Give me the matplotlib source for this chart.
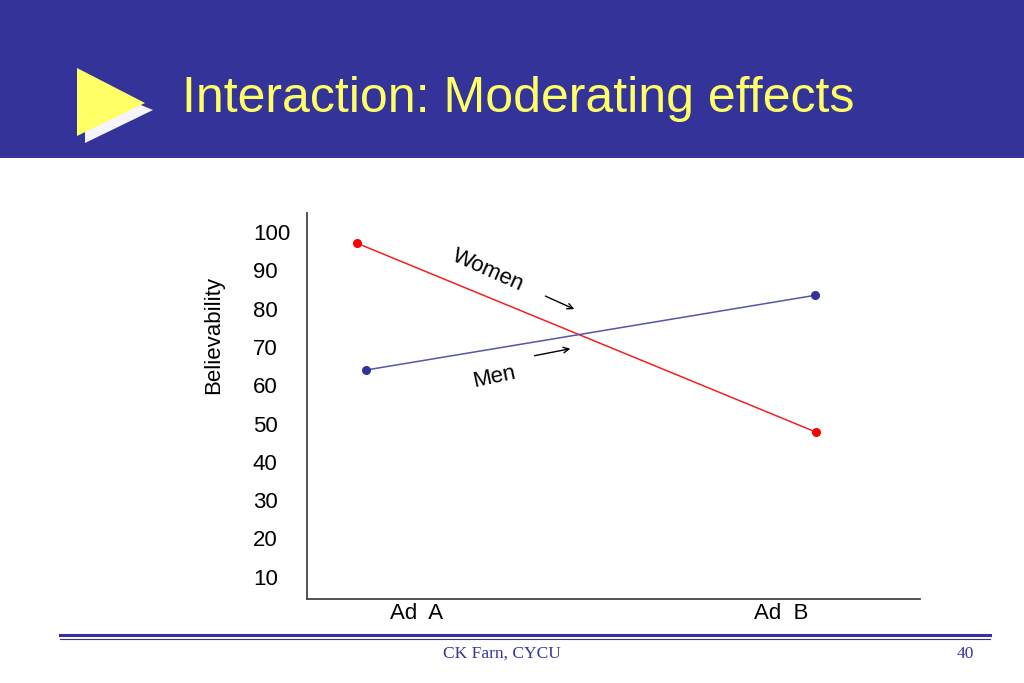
import numpy as np
import matplotlib.pyplot as plt
from matplotlib.patches import Polygon, Rectangle

plt.rcParams['font.family'] = ['Liberation Sans', 'DejaVu Sans']

# data
groups = ["Women", "Men"]
ad_labels = ["Ad  A", "Ad  B"]
women_x = [0.0, 1.0]
women_y = [97.1, 47.8]
men_x = [0.02, 0.998]
men_y = [64.0, 83.5]
y_ticks = [10, 20, 30, 40, 50, 60, 70, 80, 90, 100]
ad_tick_pos = [0.13, 0.925]

W, H = 1024, 683
fig = plt.figure(figsize=(W / 100, H / 100), dpi=100)
fig.patch.set_facecolor("white")

# slide background drawn in pixel coords
bg = fig.add_axes([0, 0, 1, 1])
bg.set_xlim(0, W)
bg.set_ylim(H, 0)
bg.axis("off")
bg.add_patch(Rectangle((0, 0), W, 158, color="#333399", lw=0))
bg.add_patch(Polygon([[85, 82], [85, 143], [153, 110]], closed=True, color="#F4F4FA", lw=0))
bg.add_patch(Polygon([[77, 68], [77, 136], [145, 103]], closed=True, color="#FFFF66", lw=0))
bg.text(182, 99, "Interaction: Moderating effects", color="#FFFF66", fontsize=36,
        va="center", ha="left")
bg.plot([60, 990], [635, 635], color="#333399", lw=2.2)
bg.plot([60, 990], [639, 639], color="#333399", lw=0.8)
bg.text(502, 654, "CK Farn, CYCU", family="Liberation Serif", fontsize=12.5,
        color="#333399", ha="center", va="center")
bg.text(965, 654, "40", family="Liberation Serif", fontsize=12.5,
        color="#333399", ha="center", va="center")

# chart
ax = fig.add_axes([307 / W, (H - 599) / H, (920 - 307) / W, (599 - 213) / H])
ax.set_xlim(-0.109, 1.227)
ax.set_ylim(4.2, 105)
ax.plot(women_x, women_y, color="#EE2222", lw=1.1, marker="o", ms=5.5,
        mfc="#FF0000", mec="#FF0000")
ax.plot(men_x, men_y, color="#5555AA", lw=1.1, marker="o", ms=5.5,
        mfc="#333399", mec="#333399")

ax.set_yticks(y_ticks)
ax.set_xticks(ad_tick_pos)
ax.set_xticklabels(ad_labels)
ax.tick_params(axis="y", length=0, pad=39, labelsize=16)
for lbl in ax.get_yticklabels():
    lbl.set_horizontalalignment("left")
ax.tick_params(axis="x", length=0, pad=3, labelsize=16)
ax.set_ylabel("Believability", fontsize=16)
ax.yaxis.set_label_coords(-0.135, 0.684)
for s in ["top", "right"]:
    ax.spines[s].set_visible(False)
for s in ["left", "bottom"]:
    ax.spines[s].set_color("#444444")
    ax.spines[s].set_linewidth(1.3)
ax.set_facecolor("none")

ax.text(0.285, 90.1, groups[0], rotation=-24, fontsize=16, ha="center", va="center")
ax.text(0.30, 62.1, groups[1], rotation=12, fontsize=16, ha="center", va="center")
ax.annotate("", xy=(0.479, 79.6), xytext=(0.405, 83.6),
            arrowprops=dict(arrowstyle="->", color="black", lw=1))
ax.annotate("", xy=(0.471, 69.7), xytext=(0.381, 67.6),
            arrowprops=dict(arrowstyle="->", color="black", lw=1))

fig.savefig("out.png", dpi=100)
